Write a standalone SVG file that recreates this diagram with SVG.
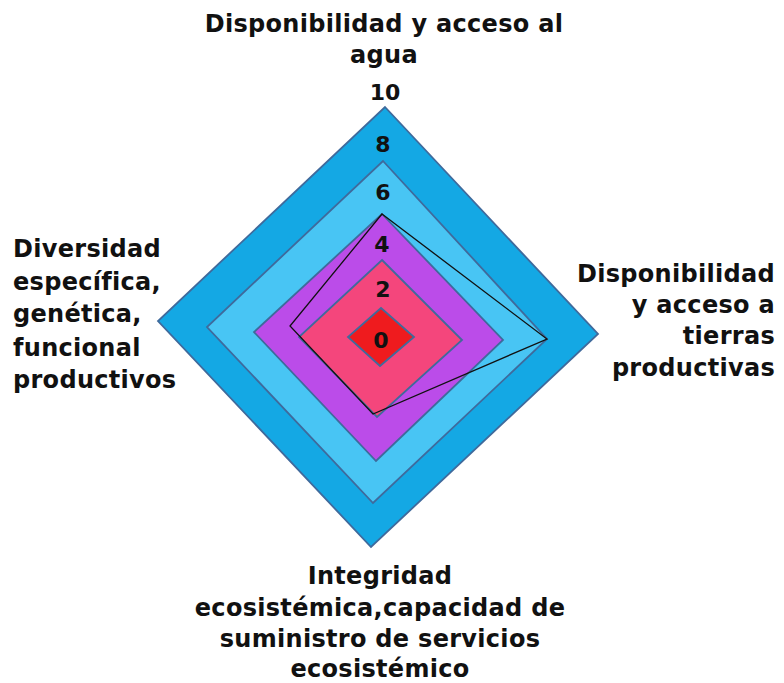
<svg xmlns="http://www.w3.org/2000/svg" width="784" height="683" viewBox="0 0 784 683">
<style>
.ring{stroke:#3f6a9c;stroke-width:1.8;stroke-linejoin:miter}
.lbl{font-family:"DejaVu Sans","Verdana",sans-serif;font-weight:bold;font-size:24px;letter-spacing:0.3px;fill:#111}
.num{font-family:"DejaVu Sans","Verdana",sans-serif;font-weight:bold;font-size:22px;fill:#111;text-anchor:middle}
.data{fill:none;stroke:#111;stroke-width:1.3}
</style>
<rect width="784" height="683" fill="#ffffff"/>
<g id="ring10"><polygon class="ring" fill="#14a8e4" points="385,107 598,334 371,547 158,321"/></g>
<g id="ring8"><polygon class="ring" fill="#48c5f4" points="383,161 547,339 373,503 207,327"/></g>
<g id="ring6"><polygon class="ring" fill="#bb4ce9" points="382,214 503,340 376,461 254,332"/></g>
<g id="ring4"><polygon class="ring" fill="#f4467c" points="382,260 462,340 377,417 299,337"/></g>
<g id="ring2"><polygon class="ring" fill="#ef1b1e" points="381,308 414,337 380,366 348,337"/></g>
<g id="connectors"><polygon class="data" points="382,214 547,339 373,414 290,326"/></g>
<g id="scale">
<text class="num" x="385" y="100">10</text>
<text class="num" x="383" y="152">8</text>
<text class="num" x="383" y="200">6</text>
<text class="num" x="382" y="252">4</text>
<text class="num" x="383" y="297">2</text>
<text class="num" x="381" y="348">0</text>
</g>
<g id="axis-top"><text class="lbl" text-anchor="middle" x="384" y="32">Disponibilidad y acceso al</text><text class="lbl" text-anchor="middle" x="384" y="63">agua</text></g>
<g id="axis-left"><text class="lbl" x="13" y="257">Diversidad</text><text class="lbl" x="13" y="290">específica,</text><text class="lbl" x="13" y="322">genética,</text><text class="lbl" x="13" y="356">funcional</text><text class="lbl" x="13" y="388">productivos</text></g>
<g id="axis-right"><text class="lbl" text-anchor="end" x="775" y="282">Disponibilidad</text><text class="lbl" text-anchor="end" x="775" y="313">y acceso a</text><text class="lbl" text-anchor="end" x="775" y="344">tierras</text><text class="lbl" text-anchor="end" x="775" y="376">productivas</text></g>
<g id="axis-bottom"><text class="lbl" text-anchor="middle" x="380" y="584">Integridad</text><text class="lbl" text-anchor="middle" x="380" y="616">ecosistémica,capacidad de</text><text class="lbl" text-anchor="middle" x="380" y="647">suministro de servicios</text><text class="lbl" text-anchor="middle" x="380" y="677">ecosistémico</text></g>
</svg>
